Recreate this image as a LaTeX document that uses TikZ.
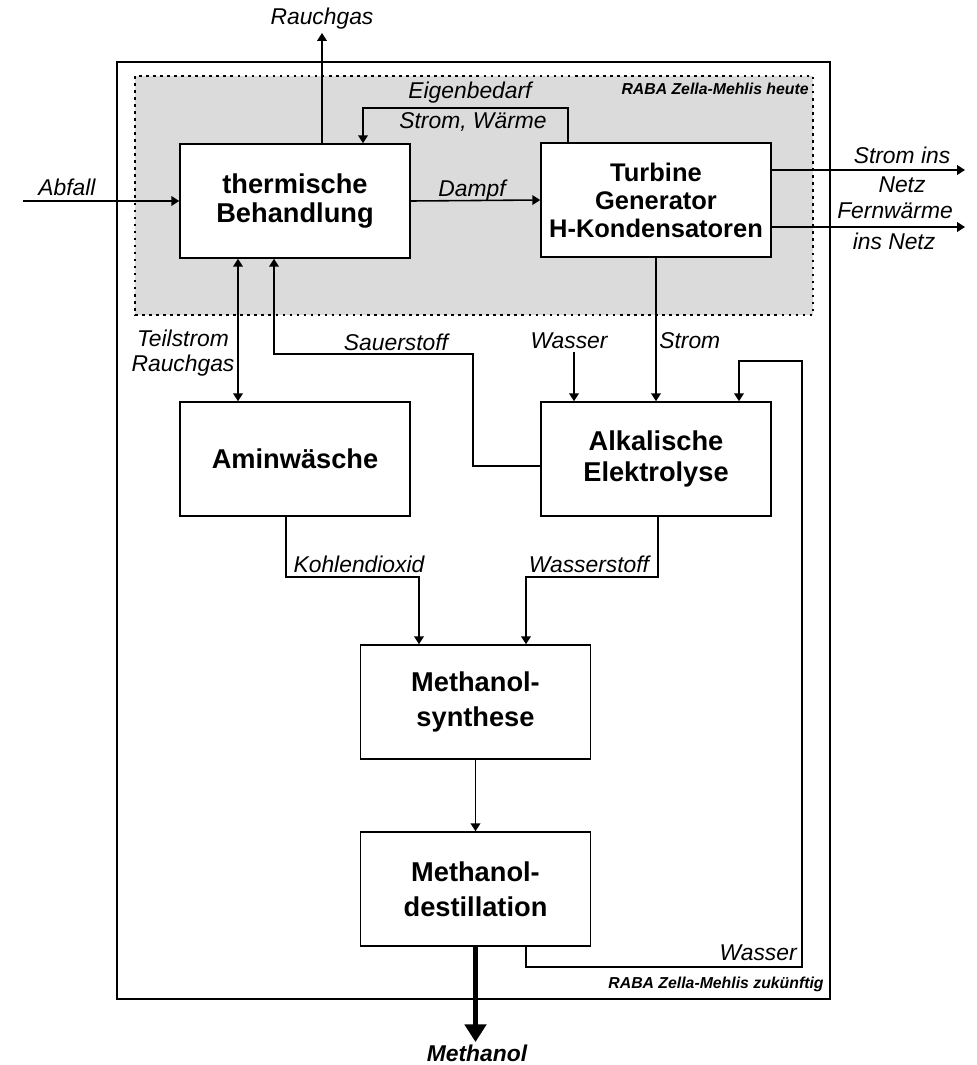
\documentclass[tikz,border=0pt]{standalone}
\usepackage{fontspec}
\setmainfont{Liberation Sans}
\usetikzlibrary{arrows.meta}
\definecolor{heutegrau}{gray}{0.86}
\tikzset{
  >={Triangle[length=4.5pt,width=5.5pt]},
  block/.style={draw, line width=0.9pt, fill=white, minimum width=4.6cm,
    minimum height=2.28cm, align=center, inner sep=0pt},
  blockfont/.style={font=\fontsize{15.5}{#1}\selectfont\bfseries},
  blockfont/.default=17pt,
  flow/.style={->, line width=0.9pt},
  flowlabel/.style={font=\fontsize{13}{14.5}\selectfont\itshape, inner sep=0pt},
  arealabel/.style={font=\fontsize{9}{10}\selectfont\bfseries\itshape,
    inner sep=0pt, anchor=east},
}
\begin{document}
\begin{tikzpicture}[x=0.02cm, y=-0.02cm]
\useasboundingbox (0,0) rectangle (977,1065);
% Bereiche heute / zukuenftig
\fill[heutegrau] (135,76) rectangle (813,315);
\draw[line width=1.1pt, dash pattern=on 1.5pt off 2.5pt] (135,76) rectangle (813,315);
\draw[line width=0.9pt] (117,62) rectangle (830,999);
\node[arealabel] (heute) at (809,89) {RABA Zella-Mehlis heute};
\node[arealabel] (zukunft) at (824,984) {RABA Zella-Mehlis zukünftig};

% Anlagen
\node[block, blockfont=16pt] (thermisch) at (295,201) {thermische\\Behandlung};
\node[block, font=\fontsize{14.5}{16}\selectfont\bfseries] (turbine) at (656,200) {Turbine\\Generator\\H-Kondensatoren};
\node[block, blockfont] (amin) at (295,459) {Aminwäsche};
\node[block, blockfont=18pt] (elektrolyse) at (656,459) {Alkalische\\Elektrolyse};
\node[block, blockfont=20pt] (synthese) at (475.5,702) {Methanol-\\synthese};
\node[block, blockfont=20pt] (destillation) at (475.5,889) {Methanol-\\destillation};

% Stuetzpunkte
\coordinate (abfall) at (23,201);
\coordinate (rauchgas) at (322,33);
\coordinate (eigen) at (363,108);
\coordinate (eigenab) at (568,108);
\coordinate (netzstrom) at (965,170);
\coordinate (netzwaerme) at (965,227);
\coordinate (teilstrom) at (238,330);
\coordinate (oknick) at (473,466);
\coordinate (ooben) at (274,354);
\coordinate (wasserein) at (574,352);
\coordinate (co) at (286,577);
\coordinate (coein) at (419,577);
\coordinate (hzwei) at (658,577);
\coordinate (hein) at (526,577);
\coordinate (methanol) at (475.5,1042);
\coordinate (rueckunten) at (526,967);
\coordinate (rueckrechts) at (802,361);
\coordinate (rueckein) at (739,361);

% Stoffstroeme
\draw[flow] (abfall) -- (thermisch.west);
\draw[flow] (thermisch.north -| rauchgas) -- (rauchgas);
\draw[flow] (turbine.north -| eigenab) -- (eigenab) -- (eigen) -- (thermisch.north -| eigen);
\draw[flow] (thermisch.east) -- (turbine.west);
\draw[flow] (turbine.east |- netzstrom) -- (netzstrom);
\draw[flow] (turbine.east |- netzwaerme) -- (netzwaerme);
\draw[flow, <->] (thermisch.south -| teilstrom) -- (amin.north -| teilstrom);
\draw[flow] (elektrolyse.west |- oknick) -- (oknick) |- (ooben) -- (thermisch.south -| ooben);
\draw[flow] (wasserein) -- (elektrolyse.north -| wasserein);
\draw[flow] (turbine.south) -- (elektrolyse.north);
\draw[flow] (amin.south -| co) -- (co) -- (coein) -- (synthese.north -| coein);
\draw[flow] (elektrolyse.south -| hzwei) -- (hzwei) -- (hein) -- (synthese.north -| hein);
\draw[flow] (synthese) -- (destillation);
\draw[line width=2.7pt, -{Triangle[length=10pt,width=12pt]}] (destillation.south) -- (methanol);
\draw[flow] (destillation.south -| rueckunten) -- (rueckunten) -| (rueckrechts) -- (rueckein)
  -- (elektrolyse.north -| rueckein);

% Beschriftungen
\node[flowlabel] (l-rauchgas) at (322,19) {Rauchgas};
\node[flowlabel] (l-abfall) at (67,187) {Abfall};
\node[flowlabel] (l-dampf) at (472,191) {Dampf};
\node[flowlabel] (l-eigen) at (470,93) {Eigenbedarf};
\node[flowlabel] (l-eigenstrom) at (473,122) {Strom, Wärme};
\node[flowlabel] (l-stromins) at (902,155) {Strom ins};
\node[flowlabel] (l-netz) at (902,185) {Netz};
\node[flowlabel] (l-fernwaerme) at (895,211) {Fernwärme};
\node[flowlabel] (l-insnetz) at (894,241) {ins Netz};
\node[flowlabel, align=center] (l-teilstrom) at (183,353) {Teilstrom\\Rauchgas};
\node[flowlabel] (l-sauerstoff) at (396,342) {Sauerstoff};
\node[flowlabel] (l-wasser) at (569,341) {Wasser};
\node[flowlabel, anchor=west] (l-strom) at (659,341) {Strom};
\node[flowlabel] (l-co) at (359,564) {Kohlendioxid};
\node[flowlabel] (l-wasserstoff) at (589,564) {Wasserstoff};
\node[flowlabel, anchor=east] (l-rueckwasser) at (797,953) {Wasser};
\node[flowlabel, font=\fontsize{13}{14.5}\selectfont\bfseries\itshape] (l-methanol) at (477,1053) {Methanol};
\end{tikzpicture}
\end{document}
